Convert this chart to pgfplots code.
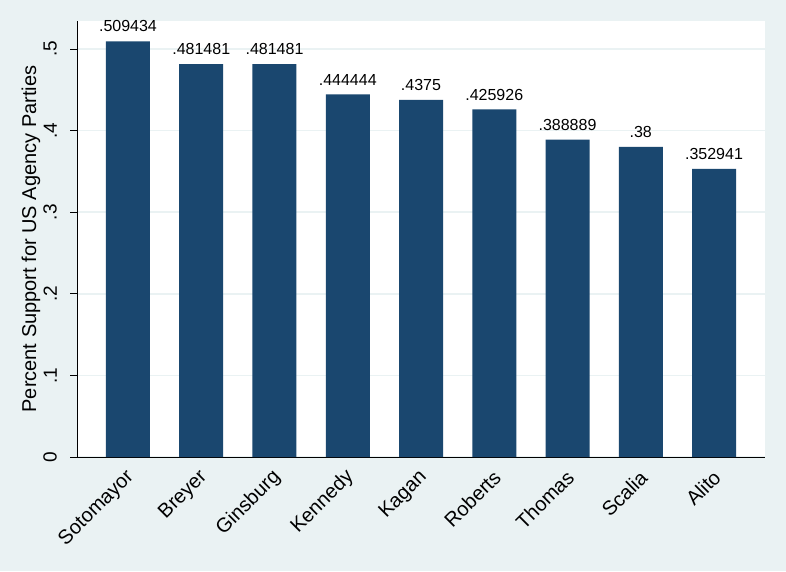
\documentclass[border=0pt]{standalone}
\usepackage{fontspec}
\setmainfont{Liberation Sans}
\usepackage{pgfplots}
\pgfplotsset{compat=1.18}
\definecolor{bgc}{HTML}{EAF2F3}
\definecolor{barc}{HTML}{1A476F}
\begin{document}
\begin{tikzpicture}[x=1pt,y=1pt]
\fill[bgc] (0,0) rectangle (786,571);
\useasboundingbox (0,0) rectangle (786,571);
\begin{axis}[
  at={(77pt,114pt)}, anchor=south west,
  scale only axis, width=688pt, height=436pt,
  xmin=-0.696, xmax=8.696, ymin=0, ymax=0.5343,
  axis background/.style={fill=white},
  axis lines*=left,
  axis line style={black, line width=0.8pt},
  ybar, bar width=44pt, bar shift=0pt,
  xtick=data,
  xticklabels={Sotomayor,Breyer,Ginsburg,Kennedy,Kagan,Roberts,Thomas,Scalia,Alito},
  x tick style={draw=none},
  xticklabel style={font=\fontsize{20}{23}\selectfont, inner sep=0pt, xshift=3pt, yshift=-10pt, rotate=45, anchor=east},
  ytick={0,0.1,0.2,0.3,0.4,0.5},
  yticklabels={0,.1,.2,.3,.4,.5},
  y tick style={black, line width=0.8pt},
  tick align=outside, major tick length=7pt,
  yticklabel style={font=\fontsize{19}{22}\selectfont, inner sep=0pt, xshift=-13pt, rotate=90, anchor=south},
  ymajorgrids, grid style={draw=bgc, line width=1.6pt},
  ylabel={Percent Support for US Agency Parties},
  every axis y label/.style={at={(axis description cs:-0.0595,0.5)}, rotate=90, anchor=base, font=\fontsize{20}{24}\selectfont},
  point meta=explicit symbolic,
  nodes near coords,
  every node near coord/.append style={font=\fontsize{16}{19}\selectfont, anchor=south, inner sep=0pt, yshift=9pt, black},
]
\addplot[fill=barc, draw=none] coordinates {
(0,0.509434) [.509434]
(1,0.481481) [.481481]
(2,0.481481) [.481481]
(3,0.444444) [.444444]
(4,0.4375) [.4375]
(5,0.425926) [.425926]
(6,0.388889) [.388889]
(7,0.38) [.38]
(8,0.352941) [.352941]
};
\end{axis}
\end{tikzpicture}
\end{document}
